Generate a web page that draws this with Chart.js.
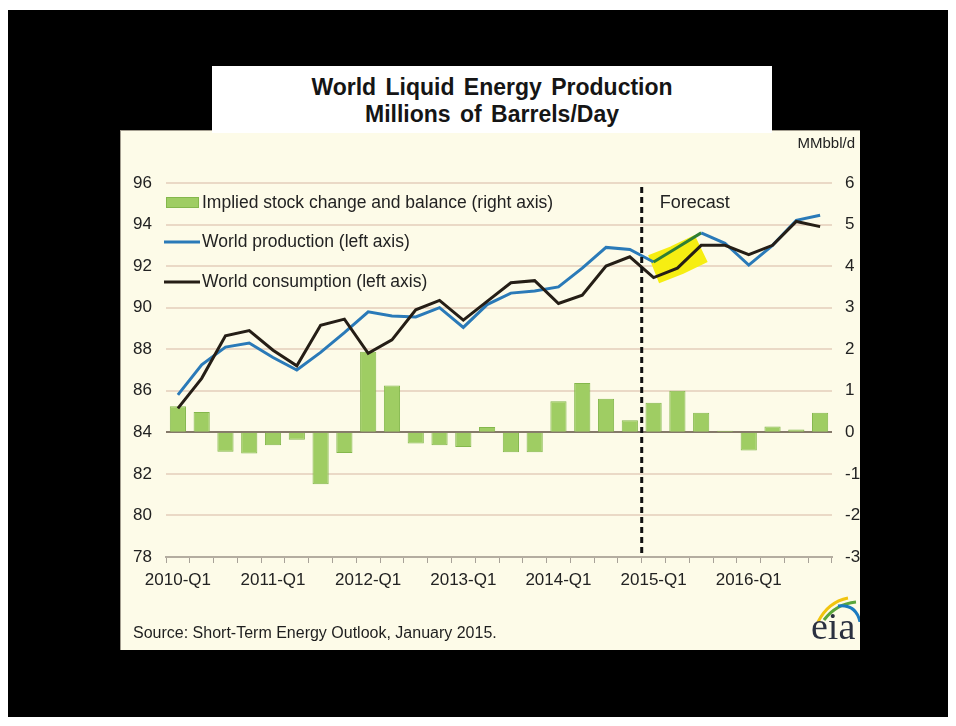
<!DOCTYPE html>
<html>
<head>
<meta charset="utf-8">
<title>World Liquid Energy Production</title>
<script src="https://cdn.jsdelivr.net/npm/chart.js@4.4.1/dist/chart.umd.min.js"></script>
<style>
  body { margin: 0; background: #fff; width: 956px; height: 726px; position: relative; overflow: hidden;
         font-family: 'Liberation Sans', Arial, sans-serif; }
  #frame { position: absolute; left: 8px; top: 10px; width: 940px; height: 707px; background: #000; }
  #panel { position: absolute; left: 120px; top: 130px; width: 740px; height: 520px; background: #fdfbe8;
           box-shadow: inset 1px 1px 0 #a39d8f; }
  #panel canvas { position: absolute; left: 0; top: 0; }
  #titlebox { position: absolute; left: 212px; top: 66px; width: 560px; height: 67px; background: #fff;
              text-align: center; font-weight: bold; font-size: 23px; line-height: 27px; color: #151515;
              word-spacing: 3px; padding-top: 8px; box-sizing: border-box; }
  #source { position: absolute; left: 13px; top: 494px; font-size: 16px; color: #1e1e1e; }
  #logo { position: absolute; left: 688px; top: 462px; width: 52px; height: 56px; }
  #logo span { position: absolute; left: 3px; top: 12px; font-family: 'Liberation Serif', 'DejaVu Serif', serif;
               font-size: 38px; color: #2b3140; }
</style>
</head>
<body>
<div id="frame"></div>
<div id="panel">
  <canvas id="chart" width="740" height="520"></canvas>
  <div id="source">Source: Short-Term Energy Outlook, January 2015.</div>
  <div id="logo">
    <svg width="52" height="30" style="position:absolute;left:0;top:0">
      <path d="M 10 30 Q 20 10 40 6" stroke="#f1c40f" stroke-width="3" fill="none"/>
      <path d="M 16 28 Q 28 12 48 10" stroke="#5aa63c" stroke-width="3" fill="none"/>
      <path d="M 30 14 Q 48 12 52 30" stroke="#1b7bc0" stroke-width="3" fill="none"/>
    </svg>
    <span>eia</span>
  </div>
</div>
<div id="titlebox">World Liquid Energy Production<br>Millions of Barrels/Day</div>

<script>
const quarters = [
  '2010-Q1', '2010-Q2', '2010-Q3', '2010-Q4',
  '2011-Q1', '2011-Q2', '2011-Q3', '2011-Q4',
  '2012-Q1', '2012-Q2', '2012-Q3', '2012-Q4',
  '2013-Q1', '2013-Q2', '2013-Q3', '2013-Q4',
  '2014-Q1', '2014-Q2', '2014-Q3', '2014-Q4',
  '2015-Q1', '2015-Q2', '2015-Q3', '2015-Q4',
  '2016-Q1', '2016-Q2', '2016-Q3', '2016-Q4'
];

// left axis, million barrels per day
const production = [85.8, 87.25, 88.1, 88.3, 87.6, 87.0, 87.85, 88.8, 89.8, 89.6, 89.55, 90.0, 89.05, 90.15,
                    90.7, 90.8, 91.0, 91.9, 92.9, 92.8, 92.2, 92.9, 93.6, 93.1, 92.05, 93.0, 94.2, 94.45];
const consumption = [85.15, 86.6, 88.65, 88.9, 87.95, 87.2, 89.15, 89.45, 87.8, 88.45, 89.9, 90.35, 89.4, 90.3,
                     91.2, 91.3, 90.2, 90.6, 92.0, 92.45, 91.45, 91.9, 93.0, 93.0, 92.55, 93.0, 94.15, 93.9];
// right axis
const stockChange = [0.63, 0.49, -0.47, -0.51, -0.31, -0.18, -1.25, -0.5, 1.94, 1.13, -0.27, -0.31, -0.35, 0.13,
                     -0.48, -0.48, 0.75, 1.19, 0.81, 0.29, 0.71, 1.0, 0.47, 0.04, -0.44, 0.14, 0.07, 0.47];
// yellow marker over the first forecast quarters
const highlight = [null, null, null, null, null, null, null, null, null, null, null, null, null, null,
                   null, null, null, null, null, null, 91.85, 92.3, 92.85, null, null, null, null, null];

const leftTicks = [78, 80, 82, 84, 86, 88, 90, 92, 94, 96];
const rightTicks = [-3, -2, -1, 0, 1, 2, 3, 4, 5, 6];
const forecastStart = 20;

Chart.defaults.font.family = "'Liberation Sans', Arial, sans-serif";
Chart.defaults.font.size = 17;
Chart.defaults.color = '#222';

const overlay = {
  id: 'overlay',
  afterDatasetsDraw(chart) {
    const { ctx, chartArea } = chart;
    const x = chart.scales.x;
    const xf = (x.getPixelForValue(forecastStart - 1) + x.getPixelForValue(forecastStart)) / 2;
    ctx.save();
    // forecast divider
    ctx.strokeStyle = '#111';
    ctx.lineWidth = 3;
    ctx.setLineDash([6, 4]);
    ctx.beginPath();
    ctx.moveTo(xf, chartArea.top + 4);
    ctx.lineTo(xf, chartArea.bottom);
    ctx.stroke();
    ctx.setLineDash([]);

    ctx.font = "18px 'Liberation Sans', Arial, sans-serif";
    ctx.fillStyle = '#222';
    ctx.textBaseline = 'middle';
    ctx.fillText('Forecast', xf + 18, chartArea.top + 20);

    // legend inside the plot
    const lx = chartArea.left;
    const t = chartArea.top;
    ctx.fillStyle = '#9fcd63';
    ctx.fillRect(lx, t + 14, 33, 11);
    ctx.strokeStyle = '#84b74c';
    ctx.lineWidth = 1;
    ctx.strokeRect(lx + 0.5, t + 14.5, 32, 10);

    ctx.lineWidth = 3;
    ctx.strokeStyle = '#2a7ab8';
    ctx.beginPath(); ctx.moveTo(lx - 2, t + 59); ctx.lineTo(lx + 34, t + 59); ctx.stroke();
    ctx.strokeStyle = '#251e16';
    ctx.beginPath(); ctx.moveTo(lx - 2, t + 99); ctx.lineTo(lx + 34, t + 99); ctx.stroke();

    ctx.font = "17.5px 'Liberation Sans', Arial, sans-serif";
    ctx.fillStyle = '#222';
    ctx.fillText('Implied stock change and balance (right axis)', lx + 36, t + 20);
    ctx.fillText('World production (left axis)', lx + 36, t + 59);
    ctx.fillText('World consumption (left axis)', lx + 36, t + 99);

    // unit of the right axis
    ctx.font = "15px 'Liberation Sans', Arial, sans-serif";
    ctx.textAlign = 'right';
    ctx.fillText('MMbbl/d', chart.width - 5, 14);
    ctx.restore();
  }
};

new Chart(document.getElementById('chart'), {
  data: {
    labels: quarters,
    datasets: [
      {
        type: 'line',
        label: 'World consumption (left axis)',
        data: consumption,
        yAxisID: 'y',
        borderColor: '#251e16',
        borderWidth: 3,
        pointRadius: 0,
        tension: 0,
        order: 0
      },
      {
        type: 'line',
        label: 'World production (left axis)',
        data: production,
        yAxisID: 'y',
        borderColor: '#2a7ab8',
        borderWidth: 3,
        pointRadius: 0,
        tension: 0,
        order: 1,
        segment: {
          borderColor: c => (c.p0DataIndex >= forecastStart && c.p1DataIndex <= forecastStart + 2) ? '#2f7f34' : undefined
        }
      },
      {
        type: 'line',
        label: 'highlight',
        data: highlight,
        yAxisID: 'y',
        borderColor: '#f6ee12',
        borderWidth: 30,
        pointRadius: 0,
        tension: 0,
        order: 2
      },
      {
        type: 'bar',
        label: 'Implied stock change and balance (right axis)',
        data: stockChange,
        yAxisID: 'y1',
        backgroundColor: '#9fcd63',
        borderColor: '#84b74c',
        borderWidth: 1,
        categoryPercentage: 1,
        barPercentage: 0.68,
        order: 3
      }
    ]
  },
  options: {
    responsive: false,
    animation: false,
    layout: { padding: { top: 53, left: 0, right: 0, bottom: 0 } },
    plugins: { legend: { display: false }, tooltip: { enabled: false } },
    scales: {
      x: {
        offset: true,
        grid: { offset: true, drawOnChartArea: false, tickLength: 6, color: '#a8a298', lineWidth: 1 },
        border: { color: '#b4ada0', width: 2 },
        ticks: {
          autoSkip: false,
          maxRotation: 0,
          padding: 7,
          callback: (v, i) => (i % 4 === 0 ? quarters[i] : '')
        },
        afterFit(s) { s.height = 93; }
      },
      y: {
        position: 'left',
        min: leftTicks[0],
        max: leftTicks[leftTicks.length - 1],
        ticks: { stepSize: 2, padding: 14 },
        grid: {
          drawTicks: false,
          lineWidth: 2,
          color: c => (c.tick && c.tick.value === 84 ? '#85796a' : '#ead9c6')
        },
        border: { display: false },
        afterFit(s) { s.width = 46; }
      },
      y1: {
        position: 'right',
        min: rightTicks[0],
        max: rightTicks[rightTicks.length - 1],
        ticks: { stepSize: 1, padding: 13 },
        grid: { drawOnChartArea: false, drawTicks: false },
        border: { display: false },
        afterFit(s) { s.width = 28; }
      }
    }
  },
  plugins: [overlay]
});
</script>
</body>
</html>
